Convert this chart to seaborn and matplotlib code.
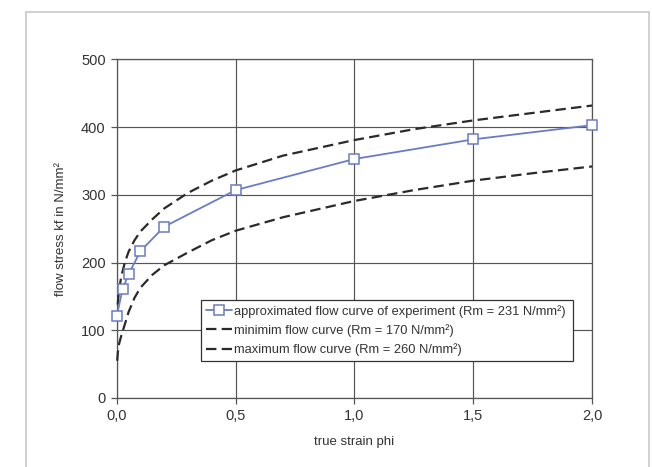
import matplotlib
matplotlib.use("Agg")
import matplotlib.pyplot as plt
import matplotlib.patches as mpatches
import seaborn as sns
import pandas as pd

# ---- data ----
exp_phi = [0.0, 0.025, 0.05, 0.1, 0.2, 0.5, 1.0, 1.5, 2.0]
exp_kf = [121, 161, 183, 217, 253, 307, 353, 382, 403]

min_phi = [0.002, 0.005, 0.01, 0.02, 0.03, 0.05, 0.075, 0.1, 0.15, 0.2, 0.3, 0.4, 0.5, 0.7, 1.0, 1.25, 1.5, 1.75, 2.0]
min_kf = [55, 68, 80, 93, 104, 127, 148, 163, 182, 196, 215, 233, 247, 267, 291, 307, 321, 332, 342]

max_phi = [0.004, 0.01, 0.02, 0.035, 0.05, 0.075, 0.1, 0.15, 0.2, 0.3, 0.4, 0.5, 0.7, 1.0, 1.25, 1.5, 1.75, 2.0]
max_kf = [138, 160, 181, 201, 216, 233, 246, 264, 280, 303, 321, 336, 358, 381, 397, 410, 421, 432]

labels = ["approximated flow curve of experiment (Rm = 231 N/mm\u00b2)",
          "minimim flow curve (Rm = 170 N/mm\u00b2)",
          "maximum flow curve (Rm = 260 N/mm\u00b2)"]

x_ticks = [0.0, 0.5, 1.0, 1.5, 2.0]
x_ticklabels = ["0,0", "0,5", "1,0", "1,5", "2,0"]
y_ticks = [0, 100, 200, 300, 400, 500]

sns.set_style("white")
plt.rcParams["font.family"] = ["Liberation Sans", "DejaVu Sans"]
plt.rcParams["lines.scale_dashes"] = False

fig = plt.figure(figsize=(6.52, 4.67), dpi=100)
ax = fig.add_axes([0.179, 0.1478, 0.729, 0.7248])

# outer light frame
frame = mpatches.Rectangle((26 / 652, -0.05), (649 - 26) / 652, 1.05 - 12 / 467,
                           transform=fig.transFigure, fill=False,
                           edgecolor="#c8c8c8", linewidth=1.2, zorder=0)
fig.patches.append(frame)

exp_df = pd.DataFrame({"phi": exp_phi, "kf": exp_kf})
min_df = pd.DataFrame({"phi": min_phi, "kf": min_kf})
max_df = pd.DataFrame({"phi": max_phi, "kf": max_kf})

sns.lineplot(data=min_df, x="phi", y="kf", ax=ax, color="#2a2a2a", linewidth=1.6,
             linestyle=(0, (7.5, 3.8)), label=labels[1], sort=False, zorder=3)
sns.lineplot(data=max_df, x="phi", y="kf", ax=ax, color="#2a2a2a", linewidth=1.6,
             linestyle=(0, (7.5, 3.8)), label=labels[2], sort=False, zorder=3)
sns.lineplot(data=exp_df, x="phi", y="kf", ax=ax, color="#6b7cc4", linewidth=1.3,
             marker="s", markersize=6.5, markerfacecolor="white",
             markeredgecolor="#6b7cc4", markeredgewidth=1.1, label=labels[0],
             sort=False, zorder=4)
for ln in ax.get_lines():
    ln.set_clip_on(False)

ax.set_xlim(0, 2.0)
ax.set_ylim(0, 500)
ax.set_xticks(x_ticks)
ax.set_xticklabels(x_ticklabels)
ax.set_yticks(y_ticks)
ax.grid(True, color="#555555", linewidth=0.85)
ax.set_axisbelow(True)
for s in ["left", "bottom", "top", "right"]:
    ax.spines[s].set_visible(True)
    ax.spines[s].set_color("#555555")
    ax.spines[s].set_linewidth(0.9)
ax.tick_params(axis="both", which="major", direction="out", length=4, width=0.9,
               color="#555555", labelsize=10.5, labelcolor="#333333", pad=4,
               bottom=True, left=True)

ax.set_xlabel("true strain phi", fontsize=9.5, color="#333333", labelpad=9)
ax.set_ylabel("flow stress kf in N/mm\u00b2", fontsize=9.5, color="#333333", labelpad=10)

handles, labs = ax.get_legend_handles_labels()
order = [labs.index(l) for l in labels]
leg = ax.legend([handles[i] for i in order], [labs[i] for i in order],
                loc="lower left", bbox_to_anchor=(0.1765, 0.1085, 0.7835, 0.188),
                mode="expand", fontsize=9.3, frameon=True, fancybox=False,
                handlelength=2.0, handletextpad=0.2, borderpad=0.4,
                labelspacing=0.5, borderaxespad=0)
leg.get_frame().set_edgecolor("#333333")
leg.get_frame().set_linewidth(0.9)
leg.get_frame().set_facecolor("white")
leg.get_frame().set_alpha(1)
for t in leg.get_texts():
    t.set_color("#333333")

fig.savefig("out.png", dpi=100, facecolor="white")
